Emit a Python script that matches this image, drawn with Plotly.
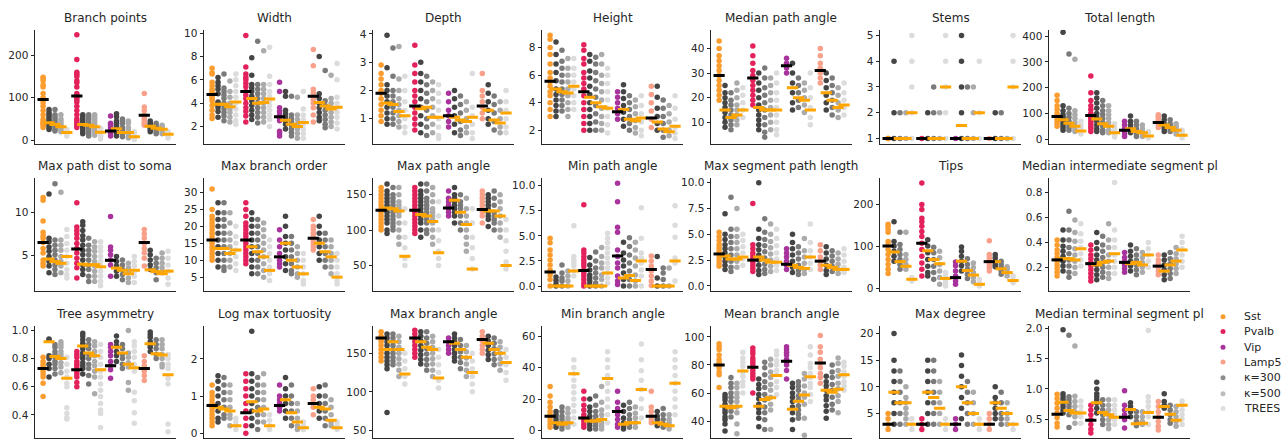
import plotly.graph_objects as go

# ---------------- categories / series ----------------
groups = ["Sst", "Pvalb", "Vip", "Lamp5"]
columns = ["data", "κ=100", "κ=300", "κ=500", "TREES"]
group_colors = ["#FA9D2E", "#E3225C", "#A8339C", "#F8A08A"]
gen_colors = ["#454545", "#7A7A7A", "#ABABAB", "#DCDCDC"]
legend_labels = ["Sst", "Pvalb", "Vip", "Lamp5", "κ=300", "κ=500", "TREES"]
legend_colors = ["#FA9D2E", "#E3225C", "#A8339C", "#F8A08A", "#8C8C8C", "#BDBDBD", "#E0E0E0"]

titles = ["Branch points", "Width", "Depth", "Height", "Median path angle", "Stems", "Total length",
          "Max path dist to soma", "Max branch order", "Max path angle", "Min path angle",
          "Max segment path length", "Tips", "Median intermediate segment pl",
          "Tree asymmetry", "Log max tortuosity", "Max branch angle", "Min branch angle",
          "Mean branch angle", "Max degree", "Median terminal segment pl"]

# each metric: 20 strips, order = Sst[data,k100,k300,k500,TREES], Pvalb[...], Vip[...], Lamp5[...]
branch_points = [
    [148,145,140,130,125,110,100,97,95,88,80,70,60,50,45,42,38,35,30],
    [72,65,60,55,50,45,40,35,30,25], [72,60,55,50,45,40,35,30,25,22],
    [60,50,45,40,35,30,25,20], [25,20,17,14,10],
    [248,190,160,155,150,140,135,125,110,105,100,95,90,80,70,60,50,45,40,35,30],
    [60,55,50,45,40,35,30,25,20,15], [60,55,50,45,40,35,30,25,20,15,10],
    [60,55,50,45,40,35,30,25,20,12], [28,24,20,16,12,8,3],
    [57,40,35,30,25,20,15,10], [62,55,45,40,35,30,25,20,15,10],
    [50,45,40,30,25,20,15,8], [45,40,30,25,20,15,10,5], [20,15,10,5,2],
    [110,78,70,60,55,50,45,40,35], [45,40,35,30,25,20], [40,35,30,25,20,15],
    [35,30,25,20,15], [20,15,10,5]]
branch_points_med = [96,41,37,32,18, 104,37,35,32,19, 22,27,18,18,8, 59,33,28,26,14]

width = [
    [7.0,6.6,6.5,5.8,5.5,5.2,5.0,4.8,4.6,4.4,4.2,3.8,3.4,3.0,2.7],
    [6.2,5.8,5.5,5.2,4.8,4.1,4.0,3.8,3.6,3.3,2.8], [6.5,5.3,5.0,4.7,4.4,4.0,3.8,3.5,3.2,2.9,2.5],
    [5.9,5.0,4.5,4.0,3.8,3.5,3.2,2.8,2.4], [6.5,6.0,5.5,5.0,4.5,4.0,3.5,3.0,2.5,2.2],
    [9.8,7.1,6.5,6.2,6.0,5.7,5.4,5.0,4.7,4.4,4.0,3.6,3.3,2.9,2.4],
    [7.9,6.4,5.6,5.3,5.0,4.6,4.2,3.8,3.4,3.0,2.6], [9.3,5.6,5.2,4.8,4.4,4.0,3.6,3.2,2.8,2.3],
    [8.5,5.6,5.2,4.8,4.4,4.0,3.6,3.2,2.8,2.4], [8.8,6.3,5.6,5.0,4.6,4.2,3.8,3.4,3.0,2.6,2.0],
    [5.8,5.0,3.6,3.3,3.0,2.7,2.5,1.6,1.4,1.2], [5.0,4.6,3.4,3.1,2.8,2.5,2.2,1.8],
    [4.6,3.0,2.7,2.4,2.1,1.8,1.5,1.2], [4.5,3.0,2.6,2.2,1.8,1.4,1.0],
    [5.0,3.5,3.0,2.6,2.2,1.8,1.4,1.0],
    [8.6,7.2,5.2,4.9,4.6,4.3,4.0,3.6,3.0,2.4], [8.0,4.8,4.4,4.0,3.6,3.2,2.8,2.5],
    [6.8,4.2,3.8,3.4,3.0,2.6,2.2,1.9], [6.4,4.4,4.0,3.6,3.2,2.8,2.4,2.0],
    [7.4,6.0,4.5,4.0,3.6,3.2,2.8,2.3,1.8]]
width_med = [4.75,3.9,3.9,3.7,4.1, 5.0,4.4,4.0,4.05,4.35, 2.85,2.55,2.2,2.0,2.35, 4.6,4.05,3.75,3.5,3.65]

depth = [
    [2.9,2.6,2.4,2.2,2.0,1.9,1.7,1.5,1.3,1.1,0.9], [3.95,2.8,2.2,2.0,1.8,1.6,1.4,1.2,1.0,0.8],
    [3.5,2.5,2.0,1.8,1.6,1.4,1.2,1.0,0.8], [3.55,2.4,2.0,1.7,1.5,1.3,1.1,0.9,0.7],
    [2.5,2.0,1.6,1.3,1.0,0.7,0.5],
    [3.6,2.9,2.6,2.3,2.0,1.8,1.6,1.4,1.2,1.0,0.8,0.6], [3.0,2.6,2.3,2.0,1.7,1.4,1.1,0.8,0.5],
    [2.5,2.2,1.9,1.6,1.3,1.0,0.7,0.4], [2.3,2.0,1.7,1.4,1.1,0.8,0.5],
    [2.2,1.9,1.6,1.3,1.0,0.7,0.4,0.3],
    [1.9,1.6,1.3,1.1,0.9,0.7], [2.0,1.7,1.4,1.1,0.8,0.5], [1.8,1.5,1.2,0.9,0.6,0.4],
    [1.6,1.3,1.0,0.7,0.5], [2.6,1.4,1.1,0.8,0.5,0.3],
    [2.6,2.0,1.8,1.6,1.4,1.2,1.0], [2.2,1.9,1.6,1.3,1.0,0.8], [1.8,1.5,1.2,0.9,0.6],
    [1.6,1.3,1.0,0.7,0.5], [2.0,1.6,1.3,1.0,0.7,0.5]]
depth_med = [1.9,1.55,1.5,1.25,1.1, 1.45,1.35,1.4,1.05,1.05, 1.1,1.05,0.95,0.9,1.05, 1.45,1.3,0.95,0.85,1.2]

height = [
    [8.9,8.6,8.0,7.5,6.8,6.2,5.8,5.5,5.2,4.8,4.5,4.0,3.5,3.0], [8.4,7.5,6.8,6.2,5.6,5.0,4.6,4.2,3.8,3.4,3.0],
    [7.8,7.0,6.5,6.0,5.5,5.0,4.6,4.2,3.8,3.4], [7.2,6.5,6.0,5.5,5.0,4.5,4.0,3.5,3.0],
    [7.2,6.5,6.0,5.5,5.0,4.5,4.0,3.5],
    [8.2,7.8,7.2,6.8,6.2,5.8,5.4,5.0,4.5,4.0,3.5,3.0,2.5,2.0], [7.5,7.0,6.3,5.8,5.2,4.6,4.0,3.5,3.0,2.5,2.0],
    [7.3,6.8,6.2,5.6,5.0,4.4,3.8,3.2,2.6,2.0], [7.5,6.8,6.0,5.4,4.8,4.2,3.6,3.0,2.5,2.0],
    [6.5,6.0,5.4,4.8,4.2,3.6,3.0,2.4,1.8],
    [4.8,4.4,4.0,3.6,3.2,2.8], [5.3,4.8,4.3,3.8,3.3,2.8,2.3], [4.5,4.0,3.5,3.0,2.5,2.0],
    [4.2,3.7,3.2,2.7,2.2,1.8], [4.5,3.8,3.2,2.6,2.0,1.6],
    [5.2,4.6,4.0,3.4,2.8,2.2], [5.2,4.4,3.6,3.0,2.5,2.0], [4.2,3.6,3.0,2.5,2.0,1.5],
    [3.8,3.2,2.6,2.0,1.6], [4.5,3.6,2.8,2.2,1.8,1.4]]
height_med = [5.55,5.0,4.8,4.7,5.2, 4.8,4.4,4.0,3.7,3.6, 3.35,3.5,2.8,2.7,2.9, 2.9,2.6,2.1,1.9,2.3]

median_path_angle = [
    [43,40,37,35,33,31,29,27,25,23,21,19], [25,22,20,18,16,14,12,10,8], [22,19,17,15,13,11,9,7],
    [26,23,20,17,15,13,11,9], [24,21,18,15,12],
    [41,37,34,31,29,27,25,23,21,19,17], [30,26,23,20,17,15,13,11,9,7], [32,28,24,21,18,15,12,9,6,4],
    [28,25,22,19,16,13,10,7], [30,26,22,19,16,13,10,7,5],
    [36,34,32,30], [34,30,26,22,18,15], [28,25,22,19,16], [26,23,20,17,14], [30,24,20,16,12,9],
    [40,37,34,32,30,28,26], [30,27,24,21,18,15], [28,25,22,19,16,13], [24,21,18,15,12], [26,22,19,16,13]]
median_path_angle_med = [29,15,12,13,15, 28,16,15,15,15, 33,24,20,19,15, 31,22,19,16,17]

stems = [
    [1,1,1], [1,2,4], [1,2], [1,2], [1,2,3,4,5],
    [1], [1,2], [1,2,3], [1,2], [1,2,3,4,5],
    [1], [1,2,3,4,5], [1,3], [1,2,3], [1,2,4],
    [1], [1,2], [1,2], [1], [1,3,4,5]]
stems_med = [1,1,1,1,2, 1,1,1,1,3, 1,1.5,1,1,2, 1,1,1,1,3]

total_length = [
    [170,150,130,115,100,90,80,70,60,50], [415,130,110,95,85,75,65,55,45,35], [330,120,100,85,70,55,45,35],
    [310,110,95,80,65,50,40,30], [70,55,45,35,25,20],
    [245,180,150,130,115,100,90,80,70,60,50,40,30], [180,160,140,120,100,85,70,55,40,30],
    [150,130,110,95,80,65,50,35,25], [130,110,95,80,65,50,35,25], [60,45,35,25,15,8],
    [70,55,40,30,20,10], [90,70,55,45,35,25], [70,55,40,30,20,10], [55,40,30,20,10], [30,20,12,5],
    [95,85,75,65,55,45], [90,75,60,50,40,30], [75,60,50,40,30], [60,50,40,30,20], [35,25,18,10,5]]
total_length_med = [88,75,62,50,32, 92,78,60,50,25, 35,40,30,25,12, 65,55,45,35,15]

max_path_dist = [
    [11.7,11.4,9.0,7.7,7.3,7.0,6.5,5.8,5.3,4.5,4.1,3.8], [12.1,7.0,6.6,6.0,5.5,4.9,4.3,3.8,3.0],
    [13.3,6.8,6.2,5.6,5.1,4.5,3.9,3.4,2.8], [12.3,6.8,6.2,5.6,4.9,4.3,3.8,3.0],
    [8.0,7.2,6.4,5.6,4.9,4.1,3.4,2.8,2.4],
    [11.1,8.3,7.9,7.5,7.0,6.4,5.8,5.3,4.7,4.1,3.6,2.4], [8.9,8.5,7.9,7.3,6.8,6.2,5.6,5.1,4.5,3.9,3.4,2.8],
    [7.0,6.2,5.6,5.1,4.5,3.9,3.4,2.6,2.0], [6.6,6.0,5.5,4.9,4.3,3.8,3.2,2.6,2.0],
    [6.6,6.0,5.5,4.9,4.3,3.8,3.2,2.6,2.0,1.5],
    [9.5,6.0,5.6,5.1,4.5,3.9,2.6], [4.9,4.3,3.8,3.2,2.6], [4.5,3.9,3.4,2.8,2.2],
    [4.1,3.6,3.0,2.4,1.9], [4.9,4.3,3.8,3.2,2.6,1.9],
    [8.0,7.5,7.0,6.4,5.8,5.3,4.7,3.8], [5.6,5.1,4.5,3.9,3.4], [4.7,4.1,3.6,3.0,2.2],
    [5.3,4.7,4.1,3.6,3.0], [5.5,4.7,3.9,3.2,2.4,1.7]]
max_path_dist_med = [6.5,4.6,4.3,4.1,4.9, 5.75,4.0,3.9,3.95,3.7, 4.45,3.55,3.3,2.9,3.3, 6.5,3.35,3.15,2.9,3.2]

max_branch_order = [
    [31,25,23,22,21,20,19,18,17,16,15,14,13,12,11,10], [27,24,22,20,18,16,14,12,10,8],
    [27,24,22,20,18,16,14,12,10,8,7], [24,21,18,16,14,12,10,8], [20,17,15,13,11,9,7],
    [27,25,23,21,20,19,18,17,16,15,14,13,12,11,10,9], [24,22,20,18,16,14,12,10,8,6],
    [22,20,18,16,14,12,10,8,6], [21,19,17,15,13,11,9,7,5], [16,14,12,10,8,6,4],
    [19,16,14,12,10,9,8], [23,20,17,15,13,11,9,7], [17,15,13,11,9,7,6], [14,12,10,8,6,5], [12,10,8,6,4,3],
    [22,20,19,18,17,16,15,14,13], [23,20,18,16,14,12,10], [18,16,14,12,10,8], [16,14,12,10,8,6],
    [12,10,8,6,4,3]]
max_branch_order_med = [16,13.5,13.5,12,13, 16,14,12.5,11,7, 11,15,10,8,6, 16.5,15,12.5,11,5]

max_path_angle = [
    [160,155,150,145,140,135,130,125,120,115,110,105,100], [165,155,150,145,140,135,130,125,120,115,110,100,95],
    [160,150,145,140,135,130,125,120,115,110,105,100], [160,150,140,135,130,125,120,110,100,90,80],
    [130,110,90,75,60,50],
    [160,155,150,145,140,135,130,125,120,115,110,105,100,95], [165,155,150,145,140,135,130,125,120,115,110,100,90],
    [165,155,145,140,135,130,125,120,115,110,100,95], [160,150,140,130,125,120,115,110,100,90,80],
    [140,120,100,85,70,60,50],
    [155,145,140,135,130,125,120], [160,150,145,140,135,130,125,120,110], [150,140,135,130,120,110,100],
    [145,130,120,110,100,90,80,70], [130,110,90,75,60,45],
    [155,150,145,140,135,130,125,120,110], [150,145,140,135,130,125,120,115,105],
    [155,145,135,125,120,115,110,100], [150,140,130,120,110,100,90], [115,100,85,70,55,45]]
max_path_angle_med = [128,131,130,127,63, 128,122,120,112,68, 131,142,125,108,45, 129,127,127,120,50]

min_path_angle = [
    [4.75,4.3,3.6,3.1,2.6,2.1,1.6,1.1,0.65,0], [0.9,0.55,0.2,0], [2.1,1.3,0.8,0.5,0], [1.5,1.0,0.5,0],
    [6.0,2.95,2.6,2.3,2.0,1.5,1.0],
    [8.1,3.6,3.3,2.95,2.6,2.3,2.0,1.6,1.3,1.0,0.65,0.3,0], [2.85,2.1,1.6,1.1,0.8,0.5,0.15,0],
    [3.4,2.5,1.8,1.3,0.8,0.3,0], [3.85,2.95,2.3,1.8,1.1,0.65,0],
    [5.25,4.75,4.3,3.8,3.3,2.8,2.3,1.8,1.3,0.8,0.3],
    [10.25,8.4,5.85,5.35,3.6,2.95,2.3,1.8,1.0,0.5,0.15], [4.35,3.3,2.6,2.0,1.3,0.65,0],
    [4.8,3.95,3.1,2.3,1.5,0.65,0], [4.35,3.6,2.8,2.0,1.1,0.5,0], [7.8,4.75,3.3,2.8,2.3,1.6,1.0,0],
    [3.0,2.5,2.0,1.5,1.0,0.5,0.05], [2.95,0.8,0], [1.8,1.3,0.65,0], [1.8,0], [8.0,6.05,4.85,2.8,2.3,0.5]]
min_path_angle_med = [1.4,0,0,0,1.5, 1.55,0,0,0,1.3, 3.0,0.8,1.05,0.55,2.5, 1.65,0,0,0,2.5]

max_segment_path_length = [
    [5.2,4.8,4.4,4.0,3.7,3.4,3.1,2.8,2.5,2.2,1.9], [7.0,5.0,4.5,4.0,3.6,3.2,2.8,2.4,2.0,1.6],
    [8.6,5.5,4.8,4.2,3.6,3.0,2.4,1.8,1.4], [7.5,5.5,4.8,4.2,3.6,3.0,2.4,1.8], [5.0,4.4,3.8,3.2,2.6,2.0],
    [8.0,4.0,3.6,3.2,2.9,2.6,2.3,2.0,1.7,1.4], [10.0,5.5,4.6,4.0,3.5,3.0,2.5,2.0,1.5,1.1],
    [6.5,5.2,4.5,3.9,3.3,2.7,2.1,1.6,1.2], [6.0,5.0,4.3,3.7,3.1,2.5,1.9,1.4], [5.5,4.6,3.9,3.2,2.6,2.0,1.5],
    [3.6,3.2,2.8,2.4,2.0,1.6], [5.0,4.2,3.6,3.0,2.4,1.8,1.3], [3.8,3.2,2.6,2.0,1.5,1.1],
    [4.6,3.4,2.8,2.2,1.6,1.2], [6.0,4.2,3.4,2.8,2.2,1.6],
    [4.0,3.4,2.8,2.4,2.0,1.6], [3.8,3.2,2.6,2.0,1.5,1.1], [3.4,2.9,2.4,1.9,1.4], [3.2,2.6,2.1,1.6,1.2],
    [3.6,3.0,2.4,1.8,1.3]]
max_segment_path_length_med = [3.1,2.9,2.6,2.6,2.8, 2.5,2.8,2.5,2.3,2.3, 2.1,2.0,1.8,1.7,2.8, 2.4,2.0,1.8,1.6,1.6]

tips = [
    [152,147,140,133,111,104,92,80,68,56,45,35], [158,111,100,88,76,64], [133,104,92,80,68,56,45],
    [133,80,68,56,45], [25,17],
    [250,199,187,166,158,147,135,123,107,92,76,60,45,29], [115,100,84,68,52,37,29], [97,84,68,52,37,21],
    [88,72,56,41,25,9], [37,29,21,13,5],
    [62,53,41,29,17,9], [98,88,76,64,53,41], [70,56,45,33,23], [60,49,37,25,15], [21,13,5],
    [113,80,72,64,56,49,41], [80,72,64,56,51], [64,56,49,41,33], [51,45,37,29], [29,21,13]]
tips_med = [100,86,63,52,21, 107,89,68,58,23, 25,64,42,31,9, 63,63,46,37,18]

median_intermediate = [
    [0.42,0.38,0.34,0.31,0.28,0.25,0.22,0.19,0.16,0.13], [0.50,0.42,0.37,0.33,0.29,0.25,0.21,0.17],
    [0.65,0.50,0.42,0.36,0.31,0.26,0.21,0.16,0.12], [0.58,0.48,0.41,0.35,0.30,0.25,0.20,0.15],
    [0.55,0.47,0.41,0.36,0.31,0.26,0.21],
    [0.38,0.34,0.30,0.27,0.24,0.21,0.18,0.15,0.12,0.09], [0.48,0.40,0.35,0.30,0.26,0.22,0.18,0.14,0.10],
    [0.45,0.38,0.33,0.28,0.24,0.20,0.16,0.12], [0.55,0.42,0.36,0.30,0.25,0.20,0.15,0.11],
    [0.88,0.50,0.42,0.36,0.30,0.25,0.20,0.15],
    [0.32,0.28,0.25,0.22,0.19,0.16], [0.38,0.33,0.29,0.25,0.21,0.17], [0.35,0.30,0.26,0.22,0.18,0.14],
    [0.32,0.28,0.24,0.20,0.16], [0.40,0.35,0.30,0.25,0.20],
    [0.30,0.26,0.23,0.20,0.17,0.14], [0.30,0.26,0.22,0.18,0.14,0.10], [0.32,0.27,0.23,0.19,0.15,0.11],
    [0.36,0.31,0.27,0.23,0.19,0.15], [0.45,0.40,0.35,0.30,0.25,0.20]]
median_intermediate_med = [0.26,0.27,0.27,0.26,0.35, 0.23,0.22,0.24,0.25,0.31, 0.24,0.23,0.24,0.22,0.30, 0.21,0.17,0.22,0.25,0.34]

tree_asymmetry = [
    [0.81,0.78,0.76,0.74,0.71,0.69,0.67,0.625,0.53], [0.94,0.93,0.82,0.80,0.76,0.73,0.67],
    [0.90,0.88,0.85,0.83,0.81,0.78,0.76,0.73,0.69], [0.92,0.90,0.88,0.85,0.83,0.81,0.77,0.74,0.70],
    [0.81,0.76,0.71,0.67,0.625,0.60,0.45,0.41,0.38,0.37],
    [0.85,0.83,0.81,0.78,0.76,0.74,0.71,0.69,0.67,0.63,0.60],
    [0.98,0.96,0.935,0.91,0.89,0.87,0.84,0.82,0.80,0.77,0.75,0.73,0.69],
    [0.935,0.90,0.87,0.83,0.80,0.76,0.73,0.68,0.62], [0.92,0.89,0.85,0.82,0.78,0.75,0.71,0.67,0.55],
    [0.90,0.85,0.81,0.76,0.71,0.67,0.62,0.575,0.53,0.48,0.435,0.41,0.31],
    [0.90,0.88,0.85,0.82,0.78,0.75,0.72,0.66], [0.96,0.92,0.89,0.85,0.82,0.78],
    [0.90,0.87,0.83,0.80,0.76,0.73], [1.0,0.84,0.81,0.77,0.74,0.63,0.575],
    [0.92,0.89,0.85,0.81,0.76,0.71,0.56,0.50,0.415,0.34],
    [0.82,0.78,0.75,0.71,0.68,0.645], [0.99,0.97,0.95,0.92,0.90,0.88,0.85], [0.935,0.90,0.87,0.83,0.80],
    [0.935,0.90,0.87,0.83,0.80,0.76,0.74], [0.83,0.80,0.76,0.73,0.66,0.62,0.335,0.28]]
tree_asymmetry_med = [0.73,0.92,0.815,0.80,0.66, 0.72,0.89,0.84,0.82,0.72, 0.75,0.88,0.84,0.76,0.735, 0.73,0.905,0.835,0.825,0.685]

log_max_tortuosity = [
    [1.3,1.1,1.0,0.9,0.8,0.7,0.6,0.5,0.4,0.3,0.2], [1.55,1.4,1.2,1.0,0.8,0.6,0.4,0.3],
    [1.5,1.3,1.1,0.9,0.7,0.5,0.4], [1.3,1.1,0.9,0.7,0.5,0.4,0.2], [0.4,0.3,0.2,0.1],
    [1.6,1.4,1.2,1.0,0.8,0.6,0.4,0.2,0.0], [2.75,1.6,1.4,1.2,1.0,0.8,0.6,0.4,0.2],
    [1.5,1.3,1.1,0.9,0.7,0.5,0.3,0.1], [1.6,1.3,1.1,0.9,0.7,0.5,0.3], [0.5,0.35,0.2,0.1],
    [1.3,1.0,0.9,0.8,0.7,0.6], [1.5,1.2,1.0,0.8,0.6,0.4], [1.3,1.0,0.8,0.6,0.4,0.2],
    [0.8,0.6,0.4,0.2,0.1], [0.3,0.2,0.1],
    [1.2,1.0,0.9,0.8,0.7,0.5], [1.25,1.0,0.8,0.6,0.4], [1.3,1.0,0.8,0.6,0.4,0.2],
    [0.9,0.7,0.5,0.3,0.2], [0.3,0.2,0.1]]
log_max_tortuosity_med = [0.75,0.7,0.65,0.6,0.2, 0.55,0.85,0.6,0.65,0.2, 0.75,0.9,0.55,0.3,0.15, 0.8,0.7,0.65,0.35,0.15]

max_branch_angle = [
    [178,172,168,165,160,155,150,145,140], [175,170,165,160,155,150,145,140,135,130,73],
    [175,170,165,160,155,150,145,140,135], [172,165,158,150,143,136,128,120], [150,140,130,120,110],
    [180,175,170,165,160,155,150,145], [178,172,166,160,154,148,142,136],
    [178,170,163,156,149,142,135,128], [172,165,158,150,143,136,128,120], [155,145,135,125,115,105],
    [170,165,160,155,150], [175,170,165,160,155,150,145,140], [168,160,152,145,138,130],
    [160,152,144,136,128,120], [150,140,130,120,110,100],
    [178,172,166,160,155,150], [172,166,160,154,148,142], [170,163,156,149,142,135],
    [165,158,150,143,136,128], [155,145,135,125,115]]
max_branch_angle_med = [170,155,165,155,123, 170,165,158,155,118, 165,163,155,145,125, 168,163,155,150,138]

min_branch_angle = [
    [28,22,18,15,12,10,8,6,4,2], [12,10,8,6,4,2], [15,12,9,7,5,3,1], [14,11,8,6,4,2],
    [45,40,36,32,28,24,20,16,12,8,4],
    [25,20,16,13,10,8,6,4,2], [20,15,12,9,7,5,3,1], [22,16,12,9,7,5,3,1], [28,18,13,10,7,5,3,1],
    [50,45,40,35,30,25,20,15,10,5],
    [25,18,14,10,7,4,2], [16,12,8,5,3,1], [18,14,10,7,4,2], [15,11,8,5,2], [55,45,38,32,26,20,14,8],
    [25,15,12,9,7,5], [12,9,7,5,3], [14,10,7,4,2], [10,7,5,3,1], [50,45,40,35,30,25,20,15,10]]
min_branch_angle_med = [9,5,4,5,36, 8,6,6,7,33, 12,4,5,5,26, 9,5,4,3,30]

mean_branch_angle = [
    [95,93,91,87,84,82,80,78,75,73,64], [59,57,55,52,50,48,46,43,41,38,33],
    [71,67,64,60,57,54,50,47,43], [67,64,60,57,54,50,46,38,31], [89,85,82,79,75,72,68,65,60],
    [92,90,88,85,83,81,79,76,74,72,70,60], [70,66,63,59,56,52,49,46,42,36],
    [82,78,73,68,64,59,55,50,46,41,34], [84,80,75,71,66,62,57,52,48,34], [90,87,83,80,76,73,68,64,59],
    [93,91,89,87,84,82,80,76,70], [67,64,60,57,54,50,46,41,34], [68,65,62,58,55,51,48,45,42],
    [74,70,65,60,57,52,42,30], [93,87,81,78,74,71,67,64,59,54],
    [101,93,89,84,81,78,74,71,67], [72,68,65,62,58,55,51,47,42], [80,75,71,66,62,57,52,48],
    [85,81,76,72,67,63,58,54,46], [82,79,75,72,68,65,62]]
mean_branch_angle_med = [80,50.7,49.5,50.7,75.7, 78.4,50.7,55.5,56.6,72.5, 82.7,48.4,54.1,58.6,71.6, 81.4,62,60.5,62.7,73]

max_degree = [
    [5,4,3,2], [20,15,13,11,9,7,5,3], [13,11,9,7,5,3], [10,8,7,6,5,4,3], [4,3,2],
    [4,3,2], [15,13,11,9,7,5,3], [15,13,11,9,7,5,3], [11,9,7,5,3], [4,3,2],
    [4,3,2], [16,14,12,10,8,6,4], [11,9,7,5,3], [9,7,5,3], [4,3,2],
    [5,4,3,2], [10,8,7,6,5,4], [9,7,5,4,3], [7,5,4,3], [3,2]]
max_degree_med = [3,9,7,7,3, 3,9,8,6,3, 3,10,7,5,3, 3,7,6,5,3]

median_terminal = [
    [0.91,0.84,0.76,0.68,0.60,0.52,0.43,0.37], [1.98,0.92,0.87,0.82,0.76,0.71,0.65,0.60],
    [1.89,0.87,0.82,0.76,0.71,0.65,0.57,0.36], [1.71,0.88,0.79,0.71,0.62,0.54,0.43],
    [0.80,0.71,0.62,0.54,0.43],
    [0.73,0.65,0.57,0.49,0.41,0.33,0.27], [1.11,1.0,0.92,0.87,0.82,0.76,0.68,0.60],
    [0.82,0.73,0.65,0.57,0.49,0.41], [0.82,0.73,0.65,0.57,0.49,0.41,0.34], [0.82,0.73,0.65,0.57,0.49,0.41],
    [0.97,0.73,0.65,0.57,0.49,0.35], [0.77,0.71,0.62,0.54], [0.62,0.54,0.46,0.39], [0.62,0.54,0.46,0.41],
    [1.97,0.87,0.79,0.71,0.62,0.54,0.41],
    [0.79,0.71,0.62,0.54,0.46,0.38,0.32], [0.92,0.79,0.73,0.68], [0.73,0.65,0.57,0.49,0.43],
    [0.71,0.62,0.54,0.46,0.38], [0.80,0.73,0.65,0.57,0.50,0.41]]
median_terminal_med = [0.58,0.78,0.64,0.60,0.60, 0.48,0.77,0.61,0.57,0.53, 0.53,0.66,0.42,0.43,0.61, 0.53,0.71,0.58,0.48,0.73]

metrics = [branch_points, width, depth, height, median_path_angle, stems, total_length,
           max_path_dist, max_branch_order, max_path_angle, min_path_angle, max_segment_path_length,
           tips, median_intermediate,
           tree_asymmetry, log_max_tortuosity, max_branch_angle, min_branch_angle,
           mean_branch_angle, max_degree, median_terminal]
medians = [branch_points_med, width_med, depth_med, height_med, median_path_angle_med, stems_med,
           total_length_med, max_path_dist_med, max_branch_order_med, max_path_angle_med,
           min_path_angle_med, max_segment_path_length_med, tips_med, median_intermediate_med,
           tree_asymmetry_med, log_max_tortuosity_med, max_branch_angle_med, min_branch_angle_med,
           mean_branch_angle_med, max_degree_med, median_terminal_med]

# ---------------- axis settings ----------------
y_ranges = [[-9, 260], [0.5, 10.3], [0.1, 4.15], [1.0, 9.3], [1.2, 47.6], [0.78, 5.23], [-19, 425],
            [0.9, 14.0], [0.9, 34.4], [14, 174], [-0.5, 10.8], [-0.5, 10.5], [-7, 263], [0.01, 0.92],
            [0.235, 1.035], [-0.13, 2.9], [40, 186], [-4.8, 66.7], [28, 108], [0.4, 21.5], [0.185, 2.05]]
y_ticks = [[0, 100, 200], [2, 4, 6, 8, 10], [1, 2, 3, 4], [2, 4, 6, 8], [10, 20, 30, 40], [1, 2, 3, 4, 5],
           [0, 100, 200, 300, 400],
           [5, 10], [5, 10, 15, 20, 25, 30], [50, 100, 150], [0, 2.5, 5, 7.5, 10], [0, 2.5, 5, 7.5, 10],
           [0, 100, 200], [0.2, 0.4, 0.6, 0.8],
           [0.4, 0.6, 0.8, 1.0], [0, 1, 2], [50, 100, 150], [0, 20, 40, 60], [40, 60, 80, 100],
           [5, 10, 15, 20], [0.5, 1.0, 1.5, 2.0]]
y_tickformat = ["", "", "", "", "", "", "", "", "", "", ".1f", ".1f", "", ".1f",
                ".1f", "", "", "", "", "", ".1f"]

W, H = 1286, 444
col_left = [35 + 169 * c for c in range(7)]
plot_w = 141
row_top = [27, 177, 327]
row_bot = [143, 292, 441]
col_step = 0.176

fig = go.Figure()
layout = dict(width=W, height=H, margin=dict(l=0, r=0, t=0, b=0),
              paper_bgcolor="white", plot_bgcolor="white", showlegend=False,
              font=dict(family="DejaVu Sans", color="#262626"))
annotations = []
shapes = []

for k in range(21):
    r, c = divmod(k, 7)
    ax = "" if k == 0 else str(k + 1)
    xa, ya = "x" + ax, "y" + ax
    data = metrics[k]
    med = medians[k]
    for g in range(4):
        vals = data[g * 5]
        fig.add_trace(go.Scatter(x=[g] * len(vals), y=vals, mode="markers", xaxis=xa, yaxis=ya,
                                 marker=dict(size=5.5, color=group_colors[g], line=dict(width=0)),
                                 hoverinfo="y", name=groups[g]))
    for j in range(1, 5):
        xs, ys = [], []
        for g in range(4):
            vals = data[g * 5 + j]
            xs += [g + j * col_step] * len(vals)
            ys += vals
        fig.add_trace(go.Scatter(x=xs, y=ys, mode="markers", xaxis=xa, yaxis=ya,
                                 marker=dict(size=5.5, color=gen_colors[j - 1], line=dict(width=0)),
                                 hoverinfo="y", name=columns[j]))
    mx_b, my_b, mx_o, my_o = [], [], [], []
    for g in range(4):
        for j in range(5):
            if j == 0:
                mx_b.append(g); my_b.append(med[g * 5])
            else:
                mx_o.append(g + j * col_step); my_o.append(med[g * 5 + j])
    fig.add_trace(go.Scatter(x=mx_o, y=my_o, mode="markers", xaxis=xa, yaxis=ya,
                             marker=dict(symbol="line-ew", size=8, line=dict(width=3, color="#FFA500")),
                             hoverinfo="y", name="median"))
    fig.add_trace(go.Scatter(x=mx_b, y=my_b, mode="markers", xaxis=xa, yaxis=ya,
                             marker=dict(symbol="line-ew", size=8, line=dict(width=3, color="black")),
                             hoverinfo="y", name="median"))

    x0 = col_left[c] / W
    x1 = (col_left[c] + plot_w) / W
    y0 = 1 - row_bot[r] / H
    y1 = 1 - row_top[r] / H
    xkey = "xaxis" if k == 0 else "xaxis%d" % (k + 1)
    ykey = "yaxis" if k == 0 else "yaxis%d" % (k + 1)
    layout[xkey] = dict(domain=[x0, x1], anchor=ya, range=[-0.24, 3.94], showline=True,
                        linecolor="#262626", linewidth=1, showticklabels=False, ticks="",
                        showgrid=False, zeroline=False, fixedrange=True)
    layout[ykey] = dict(domain=[y0, y1], anchor=xa, range=y_ranges[k], showline=True,
                        linecolor="#262626", linewidth=1, ticks="outside", ticklen=3.5,
                        tickwidth=1, tickcolor="#262626", tickvals=y_ticks[k],
                        tickformat=y_tickformat[k], tickfont=dict(size=10.5, color="#262626"),
                        showgrid=False, zeroline=False, fixedrange=True)
    annotations.append(dict(text=titles[k], x=(x0 + x1) / 2, y=1 - (row_top[r] - 3) / H,
                            xref="paper", yref="paper", xanchor="center", yanchor="bottom",
                            showarrow=False, font=dict(size=12, color="#262626")))

leg_y = [318, 333, 349, 364, 380, 396, 411]
for i, lab in enumerate(legend_labels):
    yy = 1 - leg_y[i] / H
    shapes.append(dict(type="circle", xref="paper", yref="paper", xsizemode="pixel", ysizemode="pixel",
                       xanchor=1223 / W, yanchor=yy, x0=-2.5, x1=2.5, y0=-2.5, y1=2.5,
                       fillcolor=legend_colors[i], line=dict(width=0)))
    annotations.append(dict(text=lab, x=1242 / W, y=yy, xref="paper", yref="paper",
                            xanchor="left", yanchor="middle", showarrow=False,
                            font=dict(size=11, color="#262626")))

layout["annotations"] = annotations
layout["shapes"] = shapes
fig.update_layout(**layout)
fig.write_html("out.html", config={"displayModeBar": False},
               post_script="document.body.style.margin='0px';")
